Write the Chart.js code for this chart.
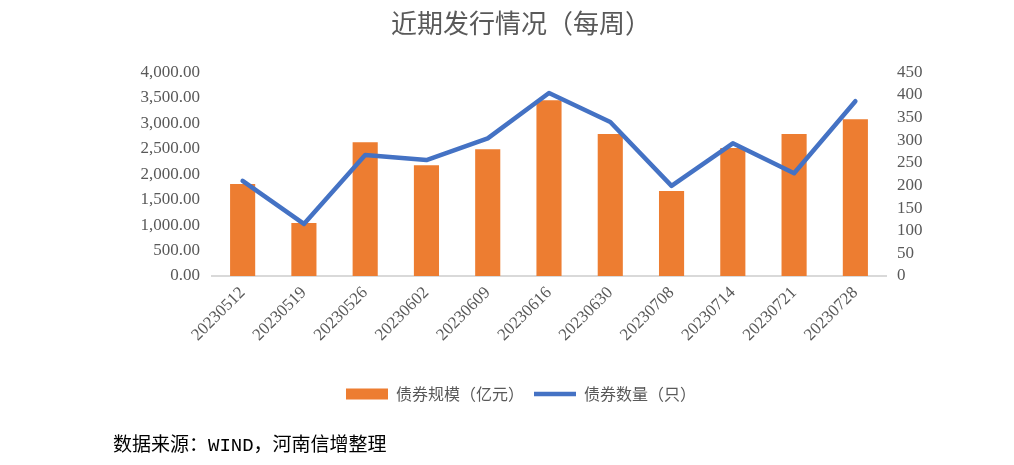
<!DOCTYPE html>
<html>
<head>
<meta charset="utf-8">
<script src="https://cdn.jsdelivr.net/npm/chart.js@4.4.1/dist/chart.umd.min.js"></script>
<style>
  html, body { margin: 0; padding: 0; background: #fff; }
  #wrap { position: relative; width: 1014px; height: 465px; }
  #source { position: absolute; left: 113px; top: 429px; font-family: "Liberation Mono", "Noto Sans CJK SC", sans-serif; font-size: 19px; color: #000; white-space: nowrap; }
</style>
</head>
<body>
<div id="wrap">
  <canvas id="c" width="1014" height="465"></canvas>
  <div id="source">数据来源：WIND，河南信增整理</div>
</div>
<script>
const categories = ['20230512','20230519','20230526','20230602','20230609','20230616','20230630','20230708','20230714','20230721','20230728'];
const bondScale = [1805, 1040, 2625, 2175, 2490, 3450, 2785, 1670, 2510, 2785, 3075];
const bondCount = [210, 115, 267, 256, 304, 404, 340, 199, 293, 227, 386];
const leftTickMax = 4000, leftTickStep = 500;
const rightTickMax = 450, rightTickStep = 50;
const titleText = '近期发行情况（每周）';
const seriesNames = ['债券规模（亿元）', '债券数量（只）'];

const tickFont = { family: 'Liberation Serif', size: 17, lineHeight: 1 };
const gray = '#595959';

new Chart(document.getElementById('c'), {
  type: 'bar',
  data: {
    labels: categories,
    datasets: [
      {
        type: 'bar', label: seriesNames[0], data: bondScale,
        backgroundColor: '#ED7D31', borderWidth: 0, yAxisID: 'y',
        categoryPercentage: 1, barPercentage: 0.41, order: 1, pointStyle: 'rect'
      },
      {
        type: 'line', label: seriesNames[1], data: bondCount,
        borderColor: '#4472C4', backgroundColor: '#4472C4', borderWidth: 4.5,
        pointRadius: 0, pointHoverRadius: 0, tension: 0, yAxisID: 'y1',
        borderCapStyle: 'round', borderJoinStyle: 'round', order: 0, pointStyle: 'line'
      }
    ]
  },
  options: {
    responsive: false,
    animation: false,
    devicePixelRatio: 1,
    layout: { padding: { left: 28, right: 0, top: 0, bottom: 53 } },
    plugins: {
      tooltip: { enabled: false },
      title: {
        display: true, text: titleText, color: gray,
        font: { family: 'Noto Sans CJK SC', size: 26, weight: 'normal' },
        padding: { top: 8, bottom: 33 }
      },
      legend: {
        position: 'bottom',
        labels: {
          usePointStyle: true, pointStyleWidth: 42, boxHeight: 11,
          color: gray, padding: 10,
          font: { family: 'Noto Sans CJK SC', size: 16 },
          sort: (a, b) => a.datasetIndex - b.datasetIndex
        }
      }
    },
    scales: {
      x: {
        grid: { display: false, drawTicks: false },
        border: { display: true, color: '#D9D9D9', width: 2 },
        ticks: { color: gray, font: tickFont, minRotation: 45, maxRotation: 45, autoSkip: false, padding: 8 },
        afterFit: (s) => { s.height = 100; }
      },
      y: {
        position: 'left', min: 0, max: leftTickMax,
        grid: { display: false, drawTicks: false },
        border: { display: false },
        ticks: {
          stepSize: leftTickStep, color: gray, font: tickFont, padding: 12, autoSkip: false,
          callback: (v) => Number(v).toLocaleString('en-US', { minimumFractionDigits: 2, maximumFractionDigits: 2 })
        },
        afterFit: (s) => { s.width = 184; }
      },
      y1: {
        position: 'right', min: 0, max: rightTickMax,
        grid: { display: false, drawTicks: false },
        border: { display: false },
        ticks: { stepSize: rightTickStep, color: gray, font: tickFont, padding: 11, autoSkip: false },
        afterFit: (s) => { s.width = 128; }
      }
    }
  }
});
</script>
</body>
</html>
